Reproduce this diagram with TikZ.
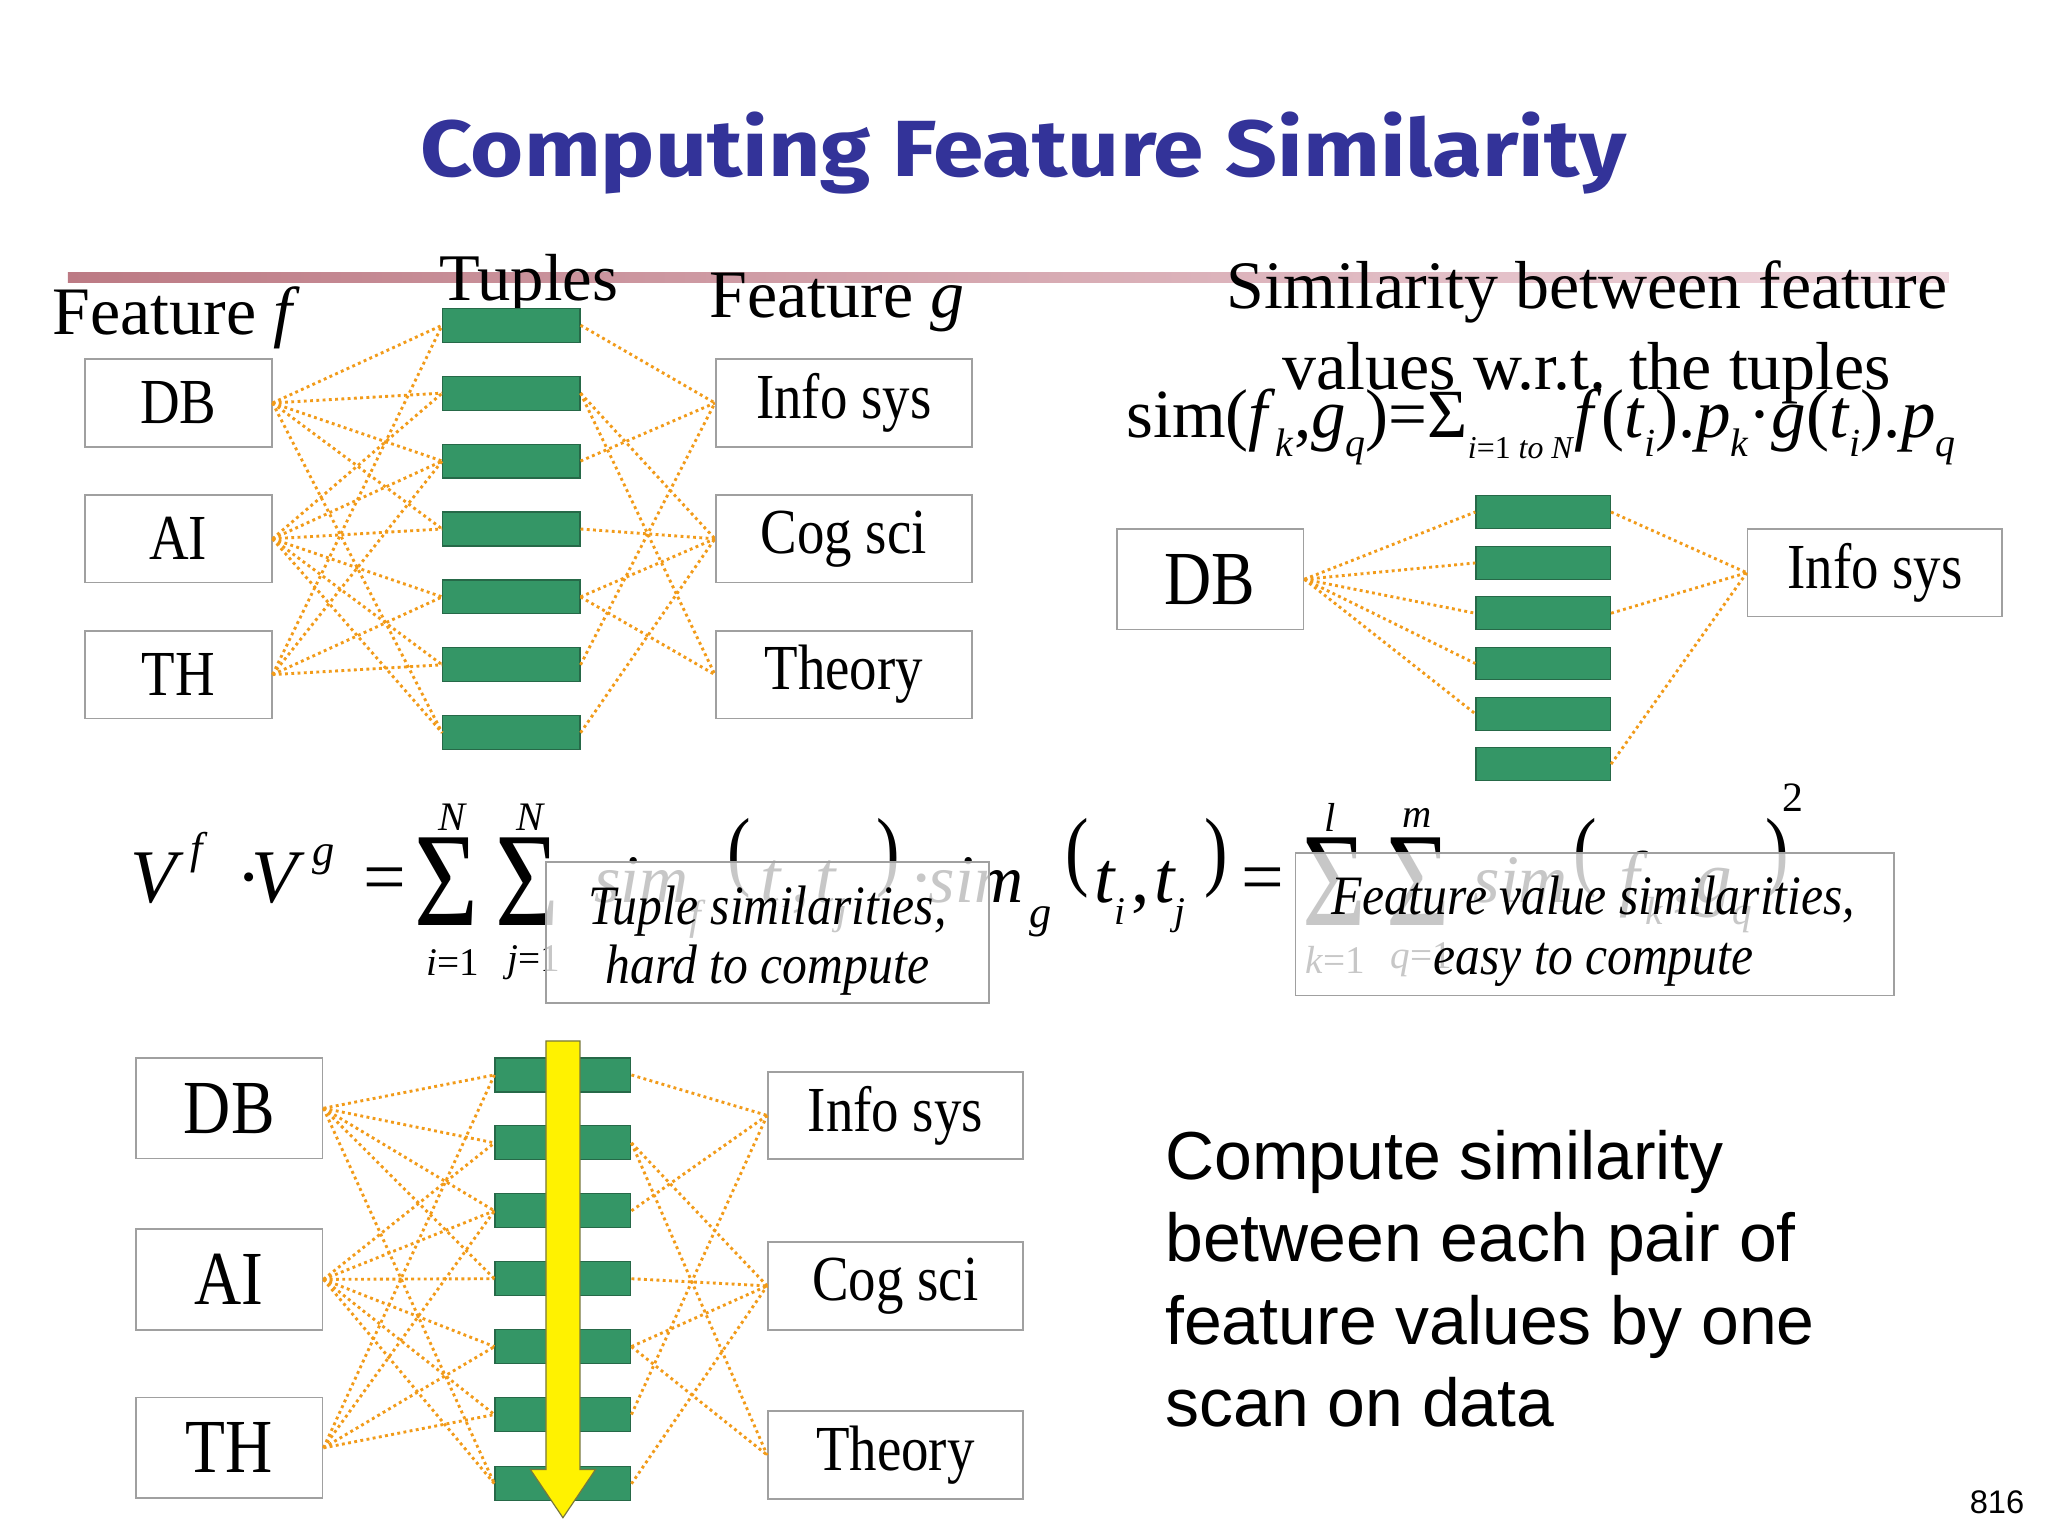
\documentclass[tikz,border=0pt]{standalone}
\usepackage{fontspec}
\setmainfont{Liberation Serif}
\setsansfont{Liberation Sans}
\newfontfamily\titlefont{Fira Sans}
\usepackage{graphicx}
\definecolor{titleblue}{RGB}{51,51,153}
\definecolor{boxgray}{RGB}{160,160,160}
\definecolor{tupgreen}{RGB}{52,150,102}
\definecolor{tupdark}{RGB}{38,105,72}
\definecolor{linkorange}{RGB}{242,155,25}
\definecolor{ruleleft}{RGB}{188,122,132}
\definecolor{ruleright}{RGB}{240,215,222}
\definecolor{arrowedge}{RGB}{120,120,60}
\newcommand\fs[1]{\fontsize{#1}{#1}\selectfont}
\newcommand\tall[1]{\scalebox{1}[1.17]{#1}}
\newcommand\sbx[1]{\raisebox{-0.28em}{\fs{30}#1}}
\newcommand\sbs[1]{\raisebox{-0.30em}{\fs{24}#1}}
\newcommand\bigsig{\scalebox{1}[1.22]{\fs{84}Σ}}
\newcommand\lpar{\scalebox{1}[1.25]{\fs{54}(}}
\newcommand\rpar{\scalebox{1}[1.25]{\fs{54})}}
\tikzset{
 fval/.style={draw=boxgray, line width=1.3pt, fill=white, minimum width=143pt, minimum height=67pt, inner sep=0pt, font=\fs{42}},
 gval/.style={fval, minimum width=196pt},
 tup/.style={draw=tupdark, line width=0.9pt, fill=tupgreen, minimum width=105pt, minimum height=26pt, inner sep=0pt},
 link/.style={draw=linkorange, line width=2.2pt, dash pattern=on 2.2pt off 2.6pt},
 lbl/.style={anchor=base west, inner sep=0pt, font=\fs{52}},
 fm/.style={anchor=base west, inner sep=0pt},
 fc/.style={anchor=center, inner sep=0pt},
 callout/.style={draw=boxgray, line width=1.2pt, fill=white, fill opacity=0.78, draw opacity=1, inner sep=0pt},
 calltext/.style={anchor=base, inner sep=0pt, font=\fs{38}\itshape},
}
\begin{document}
\begin{tikzpicture}[x=1pt,y=-1pt]
\useasboundingbox (0,0) rectangle (1568,1176);
\fill[white] (0,0) rectangle (1568,1176);

% title and rule
\node[inner sep=0pt, text=titleblue] (title) at (783.5,117) {\resizebox*{923pt}{63pt}{\titlefont\bfseries Computing Feature Similarity}};
\shade[left color=ruleleft, right color=ruleright] (52,209) rectangle (1492,216);

% ---------- top-left diagram ----------
\node[lbl] (lf) at (40,256) {Feature \textit{f}};
\node[lbl, font=\fs{51}] (lt) at (336,230) {Tuples};
\node[lbl] (lg) at (543,243) {Feature \textit{g}};

\node[fval] (fDB) at (136.5,308.5) {\tall{DB}};
\node[fval] (fAI) at (136.5,412.5) {\tall{AI}};
\node[fval] (fTH) at (136.5,516.5) {\tall{TH}};
\node[gval] (gIS) at (646,308.5) {\tall{Info sys}};
\node[gval] (gCS) at (646,412.5) {\tall{Cog sci}};
\node[gval] (gTH) at (646,516.5) {\tall{Theory}};
\foreach \i/\y in {1/249,2/301,3/353,4/405,5/457,6/509,7/561}
  \node[tup] (ta\i) at (391.5,\y) {};
\foreach \a/\b in {fDB/1,fDB/2,fDB/3,fDB/4,fDB/7,fAI/2,fAI/3,fAI/4,fAI/5,fAI/6,fAI/7,fTH/1,fTH/3,fTH/5,fTH/6}
  \draw[link] (\a.east) -- (ta\b.west);
\foreach \a/\b in {1/gIS,2/gCS,2/gTH,3/gIS,4/gCS,5/gCS,5/gTH,6/gIS,7/gCS}
  \draw[link] (ta\a.east) -- (\b.west);

% ---------- top-right diagram ----------
\node[anchor=base, inner sep=0pt, font=\fs{52}] (st1) at (1215,236) {Similarity between feature};
\node[anchor=base, inner sep=0pt, font=\fs{52}] (st2) at (1215,298) {values w.r.t. the tuples};
\node[anchor=base west, inner sep=0pt, font=\fs{52}] (simf) at (862,335) {\resizebox{635pt}{!}{sim(\textit{f}\sbx{\textit{k}},\textit{g}\sbx{\textit{q}})=Σ\sbs{\textit{i}=1 \textit{to N}}\textit{f}(\textit{t}\sbx{\textit{i}}).\textit{p}\sbx{\textit{k}}·\textit{g}(\textit{t}\sbx{\textit{i}}).\textit{p}\sbx{\textit{q}}}};

\node[fval, minimum height=77pt, font=\fs{50}] (rDB) at (926.5,443.5) {\tall{DB}};
\node[gval, minimum width=195pt] (rIS) at (1435.5,438.5) {\tall{Info sys}};
\foreach \i/\y in {1/392,2/431,3/469.5,4/508,5/546.5,6/585}
  \node[tup, minimum width=103pt, minimum height=25pt] (tb\i) at (1181.5,\y) {};
\foreach \b in {1,2,3,4,5}
  \draw[link] (rDB.east) -- (tb\b.west);
\foreach \a in {1,3,6}
  \draw[link] (tb\a.east) -- (rIS.west);

% ---------- middle formula ----------
\node[fm, font=\fs{58}\itshape] (m1) at (100,691) {V};
\node[fm, font=\fs{34}\itshape] (m2) at (146,661) {f};
\node[fm, font=\fs{58}] (m3) at (181,691) {·};
\node[fm, font=\fs{58}\itshape] (m4) at (192,691) {V};
\node[fm, font=\fs{34}\itshape] (m5) at (239,663) {g};
\node[fm, font=\fs{58}] (m6) at (278,691) {=};
\node[fc] (m7) at (342,675) {\bigsig};
\node[fc, font=\fs{31}\itshape] (m8) at (346,626) {N};
\node[fc, font=\fs{30}] (m9) at (347,737) {\textit{i}=1};
\node[fc] (m10) at (404,675) {\bigsig};
\node[fc, font=\fs{31}\itshape] (m11) at (406,626) {N};
\node[fc, font=\fs{30}] (m12) at (409,737) {\textit{j}=1};
\node[fm, font=\fs{52}\itshape] (m13) at (455,691) {sim};
\node[fm, font=\fs{32}\itshape] (m14) at (528,712) {f};
\node[fc] (m15) at (566,657) {\lpar};
\node[fm, font=\fs{56}\itshape] (m16) at (582,691) {t};
\node[fm, font=\fs{30}\itshape] (m17) at (597,708) {i};
\node[fm, font=\fs{56}] (m18) at (606,691) {,};
\node[fm, font=\fs{56}\itshape] (m19) at (624,691) {t};
\node[fm, font=\fs{30}\itshape] (m20) at (640,708) {j};
\node[fc] (m21) at (680,657) {\rpar};
\node[fm, font=\fs{56}] (m22) at (696,691) {·};
\node[fm, font=\fs{52}\itshape] (m23) at (711,691) {sim};
\node[fm, font=\fs{34}\itshape] (m24) at (788,710) {g};
\node[fc] (m25) at (825,657) {\lpar};
\node[fm, font=\fs{56}\itshape] (m26) at (838,691) {t};
\node[fm, font=\fs{30}\itshape] (m27) at (853,708) {i};
\node[fm, font=\fs{56}] (m28) at (866,691) {,};
\node[fm, font=\fs{56}\itshape] (m29) at (884,691) {t};
\node[fm, font=\fs{30}\itshape] (m30) at (899,708) {j};
\node[fc] (m31) at (931,657) {\rpar};
\node[fm, font=\fs{58}] (m32) at (950,691) {=};
\node[fc] (m33) at (1022,675) {\bigsig};
\node[fc, font=\fs{31}\itshape] (m34) at (1018,626) {l};
\node[fc, font=\fs{30}] (m35) at (1022,735) {\textit{k}=1};
\node[fc] (m36) at (1086,675) {\bigsig};
\node[fc, font=\fs{31}\itshape] (m37) at (1085,626) {m};
\node[fc, font=\fs{30}] (m38) at (1088,735) {\textit{q}=1};
\node[fm, font=\fs{52}\itshape] (m39) at (1128,691) {sim};
\node[fc] (m40) at (1214,657) {\lpar};
\node[fm, font=\fs{56}\itshape] (m41) at (1240,691) {f};
\node[fm, font=\fs{30}\itshape] (m42) at (1260,708) {k};
\node[fm, font=\fs{56}] (m43) at (1280,691) {,};
\node[fm, font=\fs{56}\itshape] (m44) at (1298,691) {g};
\node[fm, font=\fs{30}\itshape] (m45) at (1326,708) {q};
\node[fc] (m46) at (1361,657) {\rpar};
\node[fc, font=\fs{32}] (m47) at (1373,611) {2};

% callouts
\node[callout, minimum width=339pt, minimum height=108pt] (cb1) at (587.5,714) {};
\node[calltext] (ct1) at (587.5,708) {\scalebox{1}[1.12]{Tuple similarities,}};
\node[calltext] (ct2) at (587.5,753) {\scalebox{1}[1.12]{hard to compute}};
\node[callout, minimum width=458pt, minimum height=109pt] (cb2) at (1221,707.5) {};
\node[calltext] (ct3) at (1220,700) {\scalebox{1}[1.12]{Feature value similarities,}};
\node[calltext] (ct4) at (1220,746) {\scalebox{1}[1.12]{easy to compute}};

% ---------- bottom diagram ----------
\node[fval, minimum height=77pt, font=\fs{50}] (bDB) at (175.5,848.5) {\tall{DB}};
\node[fval, minimum height=77pt, font=\fs{50}] (bAI) at (175.5,979.5) {\tall{AI}};
\node[fval, minimum height=77pt, font=\fs{50}] (bTH) at (175.5,1108.5) {\tall{TH}};
\node[gval, minimum width=195pt] (bIS) at (685.5,854) {\tall{Info sys}};
\node[gval, minimum width=195pt] (bCS) at (685.5,984.5) {\tall{Cog sci}};
\node[gval, minimum width=195pt] (bTy) at (685.5,1114) {\tall{Theory}};
\foreach \i/\y in {1/823,2/875,3/927,4/979,5/1031,6/1083,7/1136}
  \node[tup, minimum width=104pt] (tc\i) at (431,\y) {};
\foreach \a/\b in {bDB/1,bDB/2,bDB/3,bDB/4,bDB/7,bAI/2,bAI/3,bAI/4,bAI/5,bAI/6,bAI/7,bTH/1,bTH/3,bTH/5,bTH/6}
  \draw[link] (\a.east) -- (tc\b.west);
\foreach \a/\b in {1/bIS,2/bCS,2/bTy,3/bIS,4/bCS,5/bCS,5/bTy,6/bIS,7/bCS}
  \draw[link] (tc\a.east) -- (\b.west);
\draw[fill=yellow, draw=arrowedge, line width=0.9pt] (418,797) -- (444,797) -- (444,1125) -- (456,1125) -- (431,1162) -- (406,1125) -- (418,1125) -- cycle;

% ---------- right text ----------
\node[anchor=base west, inner sep=0pt, font=\sffamily\fs{52}] (rt1) at (892,903) {Compute similarity};
\node[anchor=base west, inner sep=0pt, font=\sffamily\fs{52}] (rt2) at (892,966) {between each pair of};
\node[anchor=base west, inner sep=0pt, font=\sffamily\fs{52}] (rt3) at (892,1029) {feature values by one};
\node[anchor=base west, inner sep=0pt, font=\sffamily\fs{52}] (rt4) at (892,1092) {scan on data};
\node[anchor=base east, inner sep=0pt, font=\sffamily\fs{25}] (pg) at (1550,1159) {816};
\end{tikzpicture}
\end{document}
